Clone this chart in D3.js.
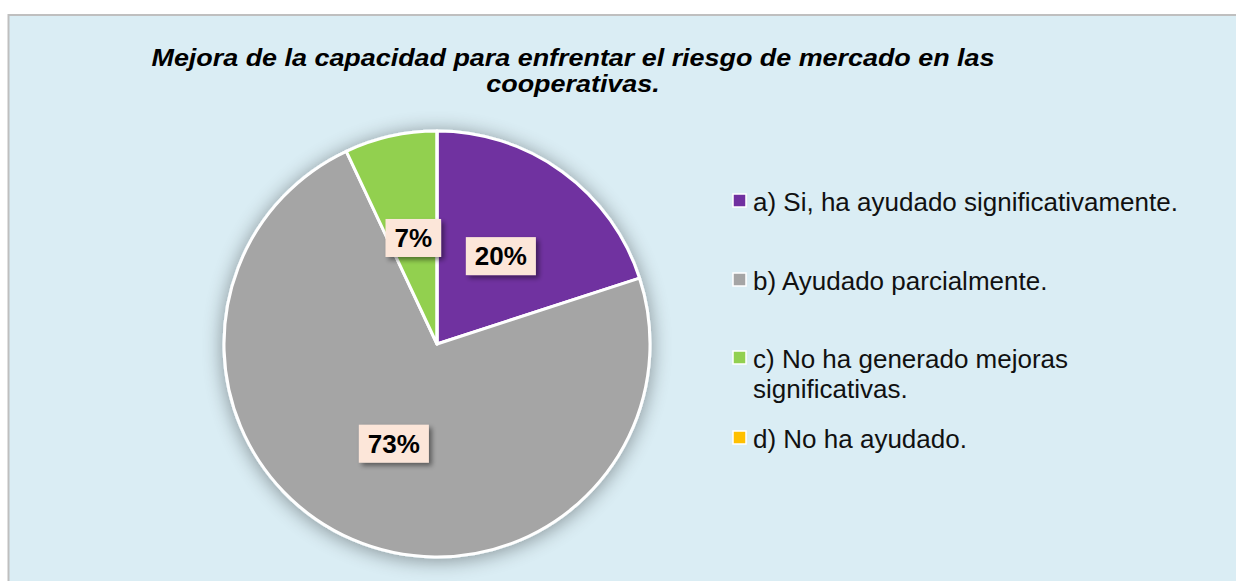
<!DOCTYPE html>
<html>
<head>
<meta charset="utf-8">
<script src="https://cdn.jsdelivr.net/npm/d3@7"></script>
<style>
  body { margin: 0; background: #fff; }
  svg { display: block; font-family: "Liberation Sans", Arial, sans-serif; }
</style>
</head>
<body>
<svg id="chart"></svg>
<script>
// data
const titleLines = ["Mejora de la capacidad para enfrentar el riesgo de mercado en las", "cooperativas."];
const categories = [
    ["a) Si, ha ayudado significativamente."],
    ["b) Ayudado parcialmente."],
    ["c) No ha generado mejoras", "significativas."],
    ["d) No ha ayudado."]
];
const values = [20, 73, 7, 0];
const colors = ["#7030a0", "#a5a5a5", "#92d050", "#ffc000"];

const width = 1236, height = 581;
const svg = d3.select("#chart").attr("width", width).attr("height", height);

const defs = svg.append("defs");
const pieShadow = defs.append("filter").attr("id", "pieShadow")
    .attr("x", "-20%").attr("y", "-20%").attr("width", "140%").attr("height", "140%");
pieShadow.append("feGaussianBlur").attr("in", "SourceAlpha").attr("stdDeviation", 10);
pieShadow.append("feOffset").attr("dx", 0).attr("dy", 2).attr("result", "blur");
pieShadow.append("feComponentTransfer").append("feFuncA").attr("type", "linear").attr("slope", 0.4);
const m1 = pieShadow.append("feMerge");
m1.append("feMergeNode");
m1.append("feMergeNode").attr("in", "SourceGraphic");

const boxShadow = defs.append("filter").attr("id", "boxShadow")
    .attr("x", "-30%").attr("y", "-30%").attr("width", "160%").attr("height", "160%");
boxShadow.append("feGaussianBlur").attr("in", "SourceAlpha").attr("stdDeviation", 2.5);
boxShadow.append("feOffset").attr("dx", 3).attr("dy", 3);
boxShadow.append("feComponentTransfer").append("feFuncA").attr("type", "linear").attr("slope", 0.45);
const m2 = boxShadow.append("feMerge");
m2.append("feMergeNode");
m2.append("feMergeNode").attr("in", "SourceGraphic");

// chart area
svg.append("rect")
    .attr("x", 8.5).attr("y", 15)
    .attr("width", width + 10).attr("height", height)
    .attr("fill", "#daedf4")
    .attr("stroke", "#bfbfbf").attr("stroke-width", 2);

// title (glyphs a bit wider than Liberation Sans, so stretch horizontally)
const titleX = 573;
svg.append("g")
    .attr("transform", `translate(${titleX},0) scale(1.17,1)`)
    .append("text")
    .attr("y", 66)
    .attr("text-anchor", "middle")
    .attr("font-size", 23).attr("font-weight", "bold").attr("font-style", "italic")
    .selectAll("tspan")
    .data(titleLines)
    .join("tspan")
    .attr("x", 0)
    .attr("dy", (d, i) => i === 0 ? 0 : 26)
    .text(d => d);

// pie
const cx = 437, cy = 344, radius = 213;
const pie = d3.pie().sort(null).value(d => d);
const arcs = pie(values);
const arc = d3.arc().innerRadius(0).outerRadius(radius);
const labelArc = d3.arc().innerRadius(radius * 0.51).outerRadius(radius * 0.51);

const g = svg.append("g").attr("transform", `translate(${cx},${cy})`);
g.append("g").attr("filter", "url(#pieShadow)")
    .selectAll("path")
    .data(arcs)
    .join("path")
    .attr("d", arc)
    .attr("fill", (d, i) => colors[i])
    .attr("stroke", "#fff")
    .attr("stroke-width", 3)
    .attr("stroke-linejoin", "round");

// data labels
const lab = g.selectAll("g.lab")
    .data(arcs.filter(d => d.value > 0))
    .join("g")
    .attr("class", "lab")
    .attr("transform", d => `translate(${labelArc.centroid(d)})`);

lab.append("rect").attr("fill", "#fce6d9").attr("filter", "url(#boxShadow)");
lab.append("text")
    .attr("text-anchor", "middle")
    .attr("dy", "0.36em")
    .attr("font-size", 26).attr("font-weight", "bold")
    .text(d => Math.round(d.value) + "%");
lab.each(function() {
    const b = d3.select(this).select("text").node().getBBox();
    d3.select(this).select("rect")
        .attr("x", b.x - 9).attr("y", -19)
        .attr("width", b.width + 18).attr("height", 38);
});

// legend
const legendY = [211, 290, 368, 448];
const legend = svg.append("g").attr("transform", "translate(733,0)");
const item = legend.selectAll("g")
    .data(categories)
    .join("g")
    .attr("transform", (d, i) => `translate(0,${legendY[i]})`);
item.append("rect")
    .attr("x", 0).attr("y", -17)
    .attr("width", 13).attr("height", 13)
    .attr("fill", (d, i) => colors[i])
    .attr("stroke", "#fff").attr("stroke-width", 1.5);
item.append("text")
    .attr("font-size", 26).attr("fill", "#111")
    .selectAll("tspan")
    .data(d => d)
    .join("tspan")
    .attr("x", 20)
    .attr("dy", (d, i) => i === 0 ? 0 : 30)
    .text(d => d);
</script>
</body>
</html>
